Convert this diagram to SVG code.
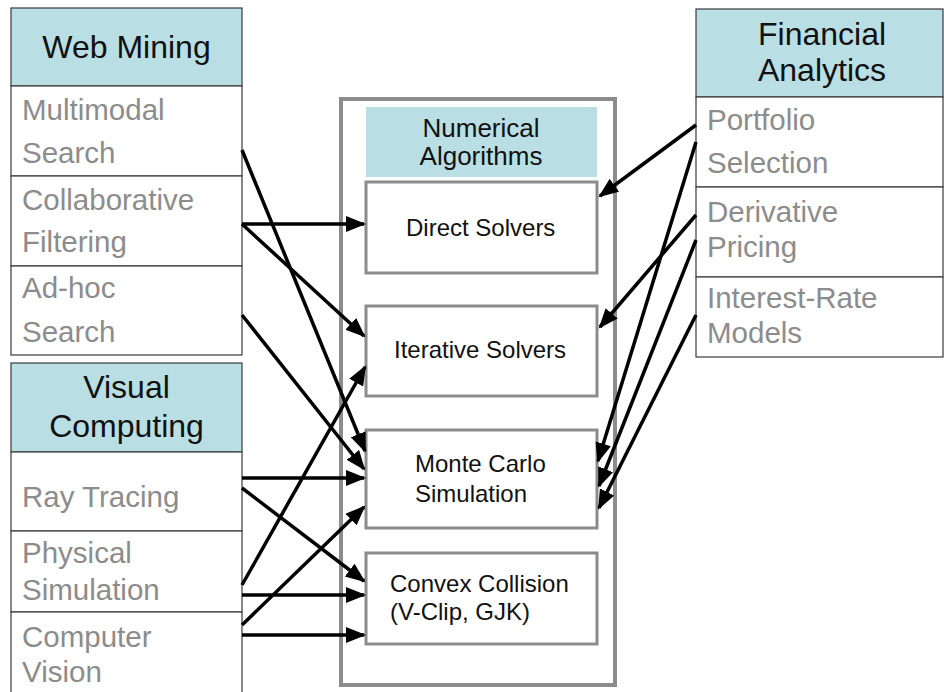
<svg xmlns="http://www.w3.org/2000/svg" width="944" height="692" viewBox="0 0 944 692">
  <style>
    .head { fill: #b9dfe4; stroke: #3a3a3a; stroke-width: 1.2; }
    .cell { fill: #ffffff; stroke: #3a3a3a; stroke-width: 1.2; }
    .htxt { font-family: "Liberation Sans", Arial, sans-serif; font-size: 32px; fill: #111111; text-anchor: middle; }
    .rtxt { font-family: "Liberation Sans", Arial, sans-serif; font-size: 29.5px; fill: #8c8c8c; }
    .container { fill: #ffffff; stroke: #8c8c8c; stroke-width: 4; }
    .alg { fill: #ffffff; stroke: #8c8c8c; stroke-width: 3; }
    .nhead { fill: #b9dfe4; }
    .atxt { font-family: "Liberation Sans", Arial, sans-serif; font-size: 24px; fill: #111111; }
    .ntxt { font-family: "Liberation Sans", Arial, sans-serif; font-size: 26px; fill: #111111; text-anchor: middle; }
    .conn line { stroke: #000000; stroke-width: 3.5; marker-end: url(#arrow); }
  </style>
  <defs>
    <marker id="arrow" markerUnits="userSpaceOnUse" markerWidth="22" markerHeight="18" refX="18" refY="8" orient="auto">
      <path d="M0,0 L20,8 L0,16 z" fill="#000000"/>
    </marker>
  </defs>

  <!-- Web Mining -->
  <g id="web-mining">
    <rect class="head" x="11" y="8" width="231" height="78"/>
    <text class="htxt" x="126.5" y="58">Web Mining</text>
    <rect class="cell" x="11" y="86" width="231" height="90"/>
    <text class="rtxt" x="22" y="120">Multimodal</text>
    <text class="rtxt" x="22" y="163">Search</text>
    <rect class="cell" x="11" y="176" width="231" height="90"/>
    <text class="rtxt" x="22" y="210">Collaborative</text>
    <text class="rtxt" x="22" y="252">Filtering</text>
    <rect class="cell" x="11" y="266" width="231" height="89"/>
    <text class="rtxt" x="22" y="298">Ad-hoc</text>
    <text class="rtxt" x="22" y="342">Search</text>
  </g>

  <!-- Visual Computing -->
  <g id="visual-computing">
    <rect class="head" x="11" y="363" width="231" height="89"/>
    <text class="htxt" x="126.5" y="398">Visual</text>
    <text class="htxt" x="126.5" y="437">Computing</text>
    <rect class="cell" x="11" y="452" width="231" height="79"/>
    <text class="rtxt" x="22" y="507">Ray Tracing</text>
    <rect class="cell" x="11" y="531" width="231" height="81"/>
    <text class="rtxt" x="22" y="563">Physical</text>
    <text class="rtxt" x="22" y="600">Simulation</text>
    <rect class="cell" x="11" y="612" width="231" height="90"/>
    <text class="rtxt" x="22" y="647">Computer</text>
    <text class="rtxt" x="22" y="682">Vision</text>
  </g>

  <!-- Financial Analytics -->
  <g id="financial-analytics">
    <rect class="head" x="696" y="9" width="247" height="88"/>
    <text class="htxt" x="822" y="45">Financial</text>
    <text class="htxt" x="822" y="81">Analytics</text>
    <rect class="cell" x="696" y="97" width="247" height="90"/>
    <text class="rtxt" x="707" y="130">Portfolio</text>
    <text class="rtxt" x="707" y="173">Selection</text>
    <rect class="cell" x="696" y="187" width="247" height="90"/>
    <text class="rtxt" x="707" y="222">Derivative</text>
    <text class="rtxt" x="707" y="257">Pricing</text>
    <rect class="cell" x="696" y="277" width="247" height="80"/>
    <text class="rtxt" x="707" y="308">Interest-Rate</text>
    <text class="rtxt" x="707" y="343">Models</text>
  </g>

  <!-- Numerical Algorithms -->
  <g id="numerical-algorithms">
    <rect class="container" x="341" y="99" width="274" height="586"/>
    <rect class="nhead" x="366" y="107" width="231" height="70"/>
    <text class="ntxt" x="481" y="137">Numerical</text>
    <text class="ntxt" x="481" y="165">Algorithms</text>
  </g>
  <g id="direct-solvers">
    <rect class="alg" x="366" y="182" width="231" height="91"/>
    <text class="atxt" x="406" y="236">Direct Solvers</text>
  </g>
  <g id="iterative-solvers">
    <rect class="alg" x="366" y="306" width="231" height="90"/>
    <text class="atxt" x="394" y="358">Iterative Solvers</text>
  </g>
  <g id="monte-carlo">
    <rect class="alg" x="366" y="430" width="231" height="98"/>
    <text class="atxt" x="415" y="472">Monte Carlo</text>
    <text class="atxt" x="415" y="502">Simulation</text>
  </g>
  <g id="convex-collision">
    <rect class="alg" x="366" y="553" width="231" height="91"/>
    <text class="atxt" x="390" y="592">Convex Collision</text>
    <text class="atxt" x="390" y="620">(V-Clip, GJK)</text>
  </g>

  <!-- Connectors -->
  <g id="connectors" class="conn">
    <line x1="242" y1="150" x2="365" y2="451"/>
    <line x1="242" y1="224" x2="364" y2="224"/>
    <line x1="242" y1="224" x2="364" y2="336"/>
    <line x1="242" y1="315" x2="364" y2="469"/>
    <line x1="242" y1="478" x2="364" y2="478"/>
    <line x1="242" y1="488" x2="364" y2="581"/>
    <line x1="242" y1="585" x2="365" y2="367"/>
    <line x1="242" y1="595" x2="364" y2="595"/>
    <line x1="242" y1="625" x2="364" y2="507"/>
    <line x1="242" y1="635" x2="364" y2="635"/>
    <line x1="696" y1="125" x2="600" y2="196"/>
    <line x1="696" y1="142" x2="598" y2="461"/>
    <line x1="696" y1="215" x2="600" y2="327"/>
    <line x1="696" y1="240" x2="599" y2="486"/>
    <line x1="696" y1="315" x2="599" y2="508"/>
  </g>
</svg>
